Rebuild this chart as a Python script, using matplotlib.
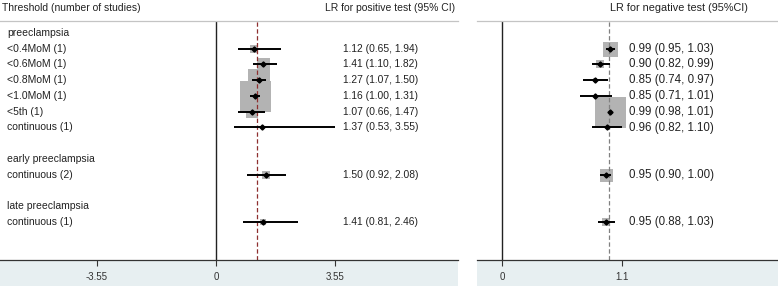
import numpy as np
import matplotlib
matplotlib.use("Agg")
import matplotlib.pyplot as plt
from matplotlib.patches import Rectangle

plt.rcParams['font.family'] = ['Liberation Sans', 'DejaVu Sans']

# groups and rows
groups = ["preeclampsia", "early preeclampsia", "late preeclampsia"]
labels = ["<0.4MoM (1)", "<0.6MoM (1)", "<0.8MoM (1)", "<1.0MoM (1)",
          "<5th (1)", "continuous (1)", "continuous (2)", "continuous (1)"]
group_of = [0, 0, 0, 0, 0, 0, 1, 2]

# LR for positive test
lrp = [1.12, 1.41, 1.27, 1.16, 1.07, 1.37, 1.50, 1.41]
lrp_lo = [0.65, 1.10, 1.07, 1.00, 0.66, 0.53, 0.92, 0.81]
lrp_hi = [1.94, 1.82, 1.50, 1.31, 1.47, 3.55, 2.08, 2.46]
w_pos = [5.6, 16.9, 52.9, 96.1, 14.4, 0.1, 6.4, 3.6]   # relative weights
pooled_pos = 1.22

# LR for negative test
lrn = [0.99, 0.90, 0.85, 0.85, 0.99, 0.96, 0.95, 0.95]
lrn_lo = [0.95, 0.82, 0.74, 0.71, 0.98, 0.82, 0.90, 0.88]
lrn_hi = [1.03, 0.99, 0.97, 1.01, 1.01, 1.10, 1.00, 1.03]
w_neg = [22.5, 6.4, 2.5, 0.9, 96.1, 0.4, 16.9, 6.4]
pooled_neg = 0.98

# work out row numbers: header, items, blank line
rows = []
header_rows = []
r = 0
for g in range(len(groups)):
    header_rows.append(r)
    r += 1
    for i in range(len(labels)):
        if group_of[i] == g:
            rows.append(r)
            r += 1
    r += 1
rows = np.array(rows)

W, H = 778, 287
fig = plt.figure(figsize=(W / 100, H / 100), dpi=100)

top_px, bot_px, sp = 21, 260, 15.75
y0 = 33
ylim = ((bot_px - y0) / sp, (top_px - y0) / sp)

band = '#e7eff1'
txt = '#222222'


def make_panel(x0, x1, xlim, ticks, ticklabels, est, lo, hi, wts, pooled,
               dash_col, val_x, val_fs):
    ax = fig.add_axes([x0 / W, 1 - bot_px / H, (x1 - x0) / W, (bot_px - top_px) / H])
    ax.set_xlim(*xlim)
    ax.set_ylim(*ylim)
    ax.set_facecolor('white')
    for s in ['left', 'right']:
        ax.spines[s].set_visible(False)
    ax.spines['top'].set_color('#c4c4c4')
    ax.spines['top'].set_linewidth(0.9)
    ax.spines['bottom'].set_color('#333333')
    ax.spines['bottom'].set_linewidth(0.9)
    ax.set_yticks([])
    ax.set_xticks(ticks)
    ax.set_xticklabels(ticklabels)
    ax.tick_params(axis='x', direction='out', length=4, width=0.8, color='#333333',
                   labelsize=7, labelcolor='#333333', pad=5)
    fig.patches.append(Rectangle((x0 / W, 1 / H), (x1 - x0) / W, (H - bot_px - 1.5) / H,
                                 transform=fig.transFigure, facecolor=band,
                                 edgecolor='none', zorder=-5))
    ax.axvline(0, color='#222222', lw=1.0, zorder=2)
    ax.axvline(pooled, color=dash_col, lw=0.9, ls=(0, (3.5, 2)), zorder=2)
    for k in range(len(est)):
        side = np.sqrt(wts[k] * 10) * 0.72
        ax.plot(est[k], rows[k], marker='s', ms=side, color='#b3b3b3', mew=0, zorder=1)
        ax.plot([lo[k], hi[k]], [rows[k], rows[k]], color='black', lw=1.4,
                solid_capstyle='butt', zorder=3)
        ax.plot(est[k], rows[k], marker='D', ms=2.6, color='black', zorder=4)
        ax.text(val_x, rows[k], f"{est[k]:.2f} ({lo[k]:.2f}, {hi[k]:.2f})",
                ha='left', va='center', fontsize=val_fs, color=txt)
    return ax


# left panel: 0 at x=216px, 33.52 px per unit
axl = make_panel(0, 458, (-216 / 33.52, (458 - 216) / 33.52), [-3.55, 0, 3.55],
                 ['-3.55', '0', '3.55'], lrp, lrp_lo, lrp_hi, w_pos, pooled_pos,
                 '#8e2f2f', (343 - 216) / 33.52, 7.4)
# right panel: 0 at x=502.3px, 109.1 px per unit
axr = make_panel(477, 778, ((477 - 502.3) / 109.1, (778 - 502.3) / 109.1), [0, 1.1],
                 ['0', '1.1'], lrn, lrn_lo, lrn_hi, w_neg, pooled_neg,
                 '#808080', (629 - 502.3) / 109.1, 8.3)

# row labels
for g, hr in enumerate(groups):
    axl.text(7 / 458, header_rows[g], hr, transform=axl.get_yaxis_transform(),
             ha='left', va='center', fontsize=7.5, color=txt)
for k, lab in enumerate(labels):
    axl.text(7 / 458, rows[k], lab, transform=axl.get_yaxis_transform(),
             ha='left', va='center', fontsize=7.5, color=txt)

fig.text(2 / W, 1 - 8 / H, "Threshold (number of studies)", ha='left', va='center',
         fontsize=7.5, color=txt)
fig.text(455 / W, 1 - 8 / H, "LR for positive test (95% CI)", ha='right', va='center',
         fontsize=7.5, color=txt)
fig.text(679 / W, 1 - 8 / H, "LR for negative test (95%CI)", ha='center', va='center',
         fontsize=7.8, color=txt)

fig.savefig('out.png', dpi=100)
